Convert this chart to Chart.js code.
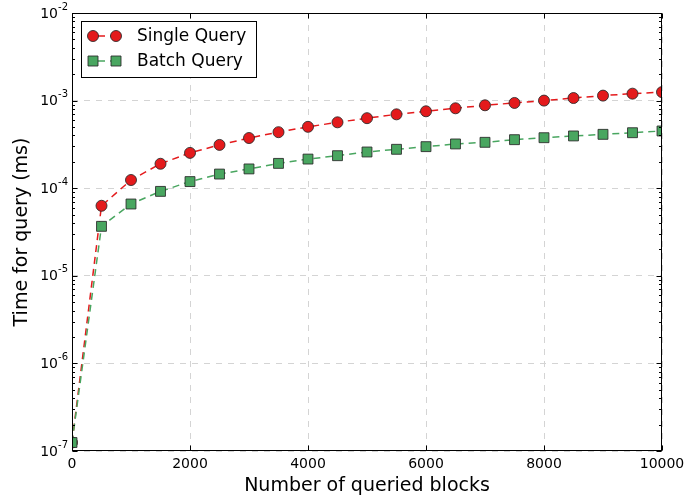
<!DOCTYPE html>
<html>
<head>
<meta charset="utf-8">
<script src="https://cdn.jsdelivr.net/npm/chart.js@4"></script>
<style>
  html, body { margin: 0; padding: 0; background: #fff; }
  #wrap { width: 685px; height: 497px; position: relative; }
</style>
</head>
<body>
<div id="wrap"><canvas id="queryChart"></canvas></div>
<script>
const blocks = [0, 500, 1000, 1500, 2000, 2500, 3000, 3500, 4000, 4500, 5000,
  5500, 6000, 6500, 7000, 7500, 8000, 8500, 9000, 9500, 10000];
const singleQuery = [1.25e-7, 6.3e-5, 1.24e-4, 1.9e-4, 2.53e-4, 3.12e-4, 3.74e-4, 4.36e-4,
  5.02e-4, 5.65e-4, 6.3e-4, 6.97e-4, 7.55e-4, 8.17e-4, 8.84e-4, 9.4e-4, 1.0e-3,
  1.07e-3, 1.14e-3, 1.2e-3, 1.25e-3];
const batchQuery = [1.25e-7, 3.67e-5, 6.6e-5, 9.2e-5, 1.19e-4, 1.45e-4, 1.66e-4, 1.92e-4,
  2.15e-4, 2.35e-4, 2.59e-4, 2.78e-4, 2.98e-4, 3.2e-4, 3.34e-4, 3.58e-4, 3.77e-4,
  3.95e-4, 4.12e-4, 4.3e-4, 4.5e-4];
const xTicks = [0, 2000, 4000, 6000, 8000, 10000];
const yTicks = [1e-7, 1e-6, 1e-5, 1e-4, 1e-3, 1e-2];
const yTickExp = ['-7', '-6', '-5', '-4', '-3', '-2'];

const FONT = "'DejaVu Sans', sans-serif";
const RED = '#e41a1c';
const GREEN = '#49a660';
const EDGE = 'rgba(40,40,40,0.85)';

// frame, inward ticks, y labels with superscripts, titles and legend
const decorations = {
  id: 'decorations',
  afterDraw(chart) {
    const ctx = chart.ctx;
    const area = chart.chartArea;
    const xs = chart.scales.x, ys = chart.scales.y;
    const L = Math.round(area.left) + 0.5, R = Math.round(area.right) - 0.5;
    const T = Math.round(area.top) + 0.5, B = Math.round(area.bottom) - 0.5;
    ctx.save();
    ctx.strokeStyle = '#000';
    ctx.lineWidth = 1;
    ctx.setLineDash([]);
    ctx.strokeRect(L, T, R - L, B - T);

    // y ticks (major + minor) on both sides
    ctx.beginPath();
    yTicks.forEach((v, i) => {
      const y = Math.round(ys.getPixelForValue(v)) + 0.5;
      ctx.moveTo(L, y); ctx.lineTo(L + 5, y);
      ctx.moveTo(R, y); ctx.lineTo(R - 5, y);
      if (i < yTicks.length - 1) {
        for (let k = 2; k <= 9; k++) {
          const ym = Math.round(ys.getPixelForValue(v * k)) + 0.5;
          ctx.moveTo(L, ym); ctx.lineTo(L + 2.5, ym);
          ctx.moveTo(R, ym); ctx.lineTo(R - 2.5, ym);
        }
      }
    });
    xTicks.forEach(v => {
      const x = Math.round(xs.getPixelForValue(v)) + 0.5;
      ctx.moveTo(x, B); ctx.lineTo(x, B - 5);
      ctx.moveTo(x, T); ctx.lineTo(x, T + 5);
    });
    ctx.stroke();

    // y tick labels 10^n
    ctx.fillStyle = '#000';
    ctx.textBaseline = 'middle';
    yTicks.forEach((v, i) => {
      const y = ys.getPixelForValue(v);
      ctx.font = '10px ' + FONT;
      const ew = ctx.measureText(yTickExp[i]).width;
      ctx.textAlign = 'right';
      ctx.fillText(yTickExp[i], 68, y - 6);
      ctx.font = '14px ' + FONT;
      ctx.fillText('10', 68 - ew, y + 1);
    });

    // axis titles
    ctx.font = '19px ' + FONT;
    ctx.textAlign = 'center';
    ctx.fillText('Number of queried blocks', (area.left + area.right) / 2, 486);
    ctx.save();
    ctx.translate(22, (area.top + area.bottom) / 2);
    ctx.rotate(-Math.PI / 2);
    ctx.fillText('Time for query (ms)', 0, 0);
    ctx.restore();

    // legend
    const bx = 81.5, by = 21.5, bw = 175, bh = 56;
    ctx.fillStyle = '#fff';
    ctx.fillRect(bx, by, bw, bh);
    ctx.strokeStyle = '#000';
    ctx.strokeRect(bx, by, bw, bh);
    chart.data.datasets.forEach((ds, i) => {
      const y = 36 + i * 25;
      ctx.strokeStyle = ds.borderColor;
      ctx.lineWidth = 1.5;
      ctx.setLineDash([7, 5]);
      ctx.lineDashOffset = -5;
      ctx.beginPath();
      ctx.moveTo(93, y); ctx.lineTo(116, y);
      ctx.stroke();
      ctx.setLineDash([]);
      [93, 116].forEach(px => {
        ctx.fillStyle = ds.pointBackgroundColor;
        ctx.strokeStyle = ds.pointBorderColor;
        ctx.lineWidth = 1;
        ctx.beginPath();
        if (ds.pointStyle === 'rect') {
          ctx.rect(px - 5, y - 5, 10, 10);
        } else {
          ctx.arc(px, y, 5.5, 0, Math.PI * 2);
        }
        ctx.fill();
        ctx.stroke();
      });
      ctx.fillStyle = '#000';
      ctx.font = '17px ' + FONT;
      ctx.textAlign = 'left';
      ctx.textBaseline = 'middle';
      ctx.fillText(ds.label, 137, y + 1);
    });
    ctx.restore();
  }
};

const toPoints = vals => vals.map((v, i) => ({ x: blocks[i], y: v }));

const ctxQuery = document.getElementById('queryChart').getContext('2d');
const queryChart = new Chart(ctxQuery, {
  type: 'line',
  data: {
    datasets: [{
      label: 'Single Query',
      data: toPoints(singleQuery),
      order: 1,
      borderColor: RED,
      borderWidth: 1.5,
      borderDash: [7, 5],
      pointStyle: 'circle',
      pointRadius: 5.5,
      pointBackgroundColor: RED,
      pointBorderColor: EDGE,
      pointBorderWidth: 1,
      clip: 0
    }, {
      label: 'Batch Query',
      data: toPoints(batchQuery),
      order: 0,
      borderColor: GREEN,
      borderWidth: 1.5,
      borderDash: [7, 5],
      pointStyle: 'rect',
      pointRadius: 7,
      pointBackgroundColor: GREEN,
      pointBorderColor: EDGE,
      pointBorderWidth: 1,
      clip: 0
    }]
  },
  options: {
    responsive: true,
    maintainAspectRatio: false,
    animation: false,
    layout: { padding: { left: 0, right: 23, top: 13, bottom: 0 } },
    plugins: {
      legend: { display: false },
      tooltip: { enabled: false }
    },
    scales: {
      x: {
        type: 'linear',
        min: 0,
        max: 10000,
        afterFit: s => { s.height = 46; s.paddingRight = 0; s.paddingLeft = 0; },
        afterBuildTicks: s => { s.ticks = xTicks.map(v => ({ value: v })); },
        ticks: {
          color: '#000',
          font: { family: FONT, size: 14 },
          padding: 5,
          maxRotation: 0,
          autoSkip: false,
          callback: v => String(v)
        },
        grid: { color: '#d4d4d4', lineWidth: 1, drawTicks: false },
        border: { display: false, dash: [6, 6] }
      },
      y: {
        type: 'logarithmic',
        min: 1e-7,
        max: 1e-2,
        afterFit: s => { s.width = 72; },
        afterBuildTicks: s => { s.ticks = yTicks.map(v => ({ value: v })); },
        ticks: { display: false },
        grid: { color: '#d4d4d4', lineWidth: 1, drawTicks: false },
        border: { display: false, dash: [6, 6] }
      }
    }
  },
  plugins: [decorations]
});
</script>
</body>
</html>
